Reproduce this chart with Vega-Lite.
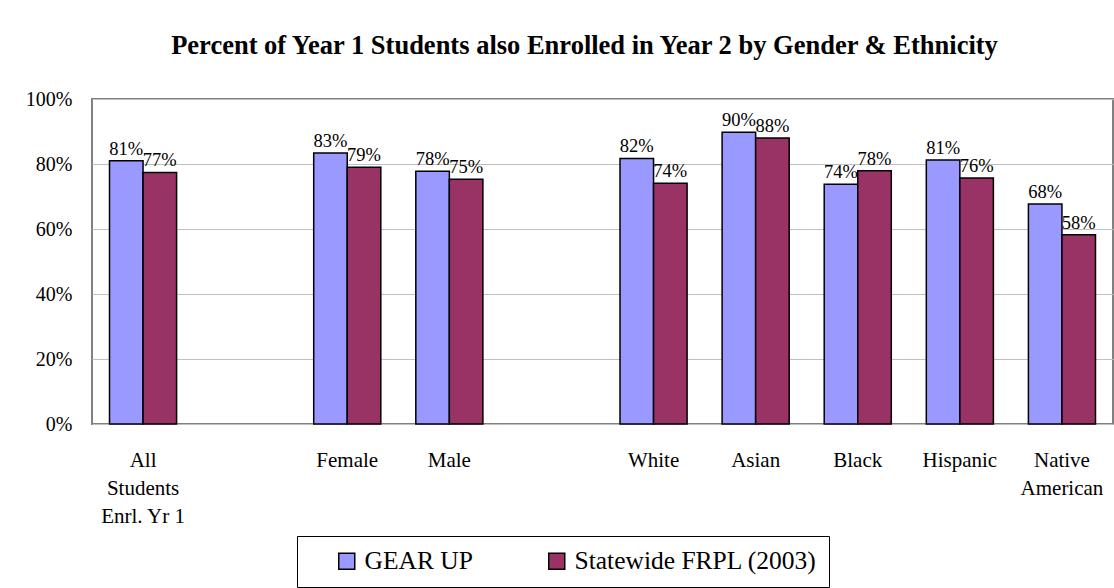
{
  "$schema": "https://vega.github.io/schema/vega-lite/v6.json",
  "width": 1021,
  "height": 325,
  "autosize": {"type": "none"},
  "padding": {"left": 92, "top": 99, "right": 1, "bottom": 164},
  "background": "white",
  "title": {
    "text": "Percent of Year 1 Students also Enrolled in Year 2 by Gender & Ethnicity",
    "font": "Liberation Serif",
    "fontSize": 26.5,
    "fontWeight": "bold",
    "color": "black",
    "offset": 30,
    "dx": -18
  },
  "data": {
    "values": [
      {"group": "All Students Enrl. Yr 1", "series": "GEAR UP", "pct": 0.81},
      {"group": "All Students Enrl. Yr 1", "series": "Statewide FRPL (2003)", "pct": 0.774},
      {"group": "Female", "series": "GEAR UP", "pct": 0.834},
      {"group": "Female", "series": "Statewide FRPL (2003)", "pct": 0.79},
      {"group": "Male", "series": "GEAR UP", "pct": 0.778},
      {"group": "Male", "series": "Statewide FRPL (2003)", "pct": 0.753},
      {"group": "White", "series": "GEAR UP", "pct": 0.817},
      {"group": "White", "series": "Statewide FRPL (2003)", "pct": 0.741},
      {"group": "Asian", "series": "GEAR UP", "pct": 0.898},
      {"group": "Asian", "series": "Statewide FRPL (2003)", "pct": 0.88},
      {"group": "Black", "series": "GEAR UP", "pct": 0.738},
      {"group": "Black", "series": "Statewide FRPL (2003)", "pct": 0.779},
      {"group": "Hispanic", "series": "GEAR UP", "pct": 0.812},
      {"group": "Hispanic", "series": "Statewide FRPL (2003)", "pct": 0.757},
      {"group": "Native American", "series": "GEAR UP", "pct": 0.677},
      {"group": "Native American", "series": "Statewide FRPL (2003)", "pct": 0.582}
    ]
  },
  "encoding": {
    "x": {
      "field": "group",
      "type": "nominal",
      "sort": null,
      "scale": {
        "domain": ["All Students Enrl. Yr 1", " ", "Female", "Male", "  ", "White", "Asian", "Black", "Hispanic", "Native American"],
        "paddingInner": 0.343,
        "paddingOuter": 0.1715
      },
      "axis": {
        "title": null,
        "labelAngle": 0,
        "domain": false,
        "ticks": false,
        "grid": false,
        "labelFont": "Liberation Serif",
        "labelFontSize": 21,
        "labelColor": "black",
        "labelPadding": 25,
        "labelLineHeight": 28,
        "labelExpr": "datum.label == 'All Students Enrl. Yr 1' ? ['All', 'Students', 'Enrl. Yr 1'] : (datum.label == 'Native American' ? ['Native', 'American'] : datum.label)"
      }
    },
    "xOffset": {"field": "series", "type": "nominal", "sort": ["GEAR UP", "Statewide FRPL (2003)"]},
    "y": {
      "field": "pct",
      "type": "quantitative",
      "scale": {"domain": [0, 1]},
      "axis": {
        "title": null,
        "format": ".0%",
        "values": [0, 0.2, 0.4, 0.6, 0.8, 1],
        "domain": false,
        "ticks": false,
        "grid": true,
        "gridColor": "#c0c0c0",
        "gridWidth": 1,
        "labelPadding": 20,
        "labelFont": "Liberation Serif",
        "labelFontSize": 20,
        "labelColor": "black"
      }
    }
  },
  "layer": [
    {
      "mark": {"type": "bar", "stroke": "black", "strokeWidth": 1.5, "opacity": 1},
      "encoding": {
        "color": {
          "field": "series",
          "type": "nominal",
          "scale": {"domain": ["GEAR UP", "Statewide FRPL (2003)"], "range": ["#9999FF", "#993366"]},
          "legend": {
            "orient": "none",
            "legendX": 205,
            "legendY": 437,
            "direction": "horizontal",
            "title": null,
            "strokeColor": "black",
            "fillColor": "white",
            "padding": 12,
            "symbolType": "square",
            "symbolSize": 256,
            "symbolStrokeColor": "black",
            "symbolStrokeWidth": 1.5,
            "symbolOpacity": 1,
            "symbolOffset": 25,
            "labelFont": "Liberation Serif",
            "labelFontSize": 25.5,
            "labelColor": "black",
            "labelOffset": 5,
            "labelLimit": 400,
            "columnPadding": 46
          }
        }
      }
    },
    {
      "mark": {"type": "text", "baseline": "alphabetic", "dy": -6, "font": "Liberation Serif", "fontSize": 18.5, "color": "black"},
      "encoding": {"text": {"field": "pct", "type": "quantitative", "format": ".0%"}}
    }
  ],
  "config": {"view": {"stroke": "#808080", "strokeWidth": 2}}
}
